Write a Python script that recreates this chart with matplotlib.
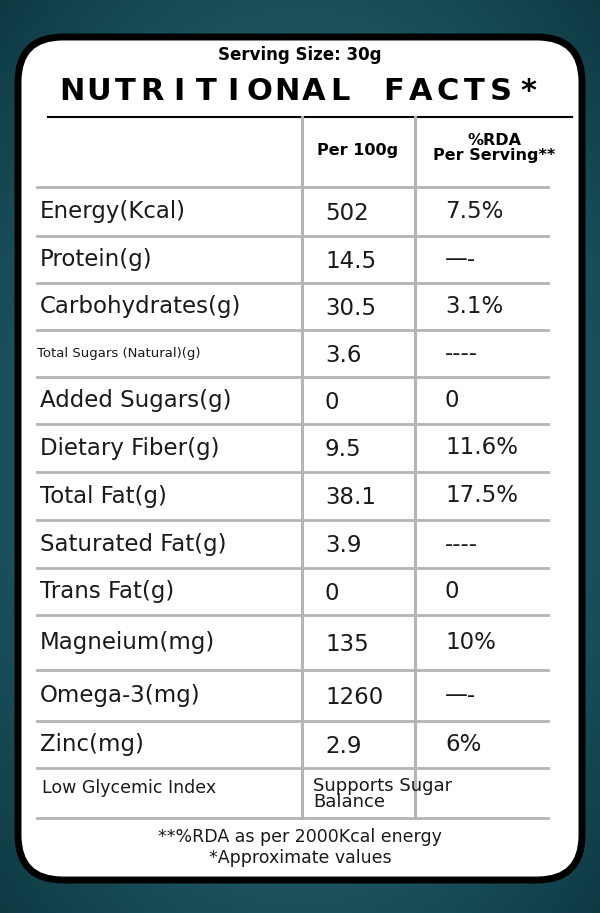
import numpy as np
import matplotlib.pyplot as plt
from matplotlib.patches import FancyBboxPatch

# label data
serving = "Serving Size: 30g"
title = "NUTRITIONAL FACTS*"
col_heads = ["Per 100g", "%RDA\nPer Serving**"]
nutrients = ["Energy(Kcal)", "Protein(g)", "Carbohydrates(g)", "Total Sugars (Natural)(g)",
             "Added Sugars(g)", "Dietary Fiber(g)", "Total Fat(g)", "Saturated Fat(g)",
             "Trans Fat(g)", "Magneium(mg)", "Omega-3(mg)", "Zinc(mg)"]
per_100g = ["502", "14.5", "30.5", "3.6", "0", "9.5", "38.1", "3.9", "0", "135", "1260", "2.9"]
rda = ["7.5%", "—-", "3.1%", "----", "0", "11.6%", "17.5%", "----", "0", "10%", "—-", "6%"]
footnotes = ["**%RDA as per 2000Kcal energy", "*Approximate values"]

W, H = 600, 913
fig = plt.figure(figsize=(6, 9.13), dpi=100)
ax = fig.add_axes([0, 0, 1, 1])
ax.set_xlim(0, W)
ax.set_ylim(H, 0)
ax.axis('off')

# teal radial background
yy, xx = np.mgrid[0:H, 0:W]
r = np.sqrt(((xx - W / 2) / W) ** 2 + ((yy - H / 2) / H) ** 2)
c0 = np.array([0x38, 0x86, 0x90]) / 255
c1 = np.array([0x0e, 0x3a, 0x44]) / 255
t = np.clip(r / 0.7, 0, 1)[..., None]
ax.imshow(c0 * (1 - t) + c1 * t, extent=[0, W, H, 0], zorder=0)

card = FancyBboxPatch((18, 37), 564, 843, boxstyle="round,pad=0,rounding_size=45",
                      fc='white', ec='black', lw=5, zorder=1)
ax.add_patch(card)

font = "DejaVu Sans"
ink = '#1a1a1a'
ax.text(300, 55, serving, ha='center', va='center', fontsize=12, fontweight='bold', family=font, zorder=3)

# letter-spaced title, one glyph at a time
title_x = np.linspace(72, 528, len(title))
for ch, x in zip(title, title_x):
    ax.text(x, 92, ch, ha='center', va='center', fontsize=22, fontweight='bold', family=font, zorder=3)
ax.plot([48, 572], [117, 117], color='black', lw=1.5, zorder=2)

row_lines = [187, 236, 283, 330, 377, 424, 472, 520, 568, 615, 670, 721, 768, 818]
grey = '#b4b4b4'
for y in row_lines:
    ax.plot([37, 548], [y, y], color=grey, lw=2, zorder=2)
for x in [302, 415]:
    ax.plot([x, x], [117, 818], color=grey, lw=2.2, zorder=2)

ax.text(358, 151, col_heads[0], ha='center', va='center', fontsize=11.5, fontweight='bold', family=font, zorder=3)
ax.text(494, 148, col_heads[1], ha='center', va='center', fontsize=11.5, fontweight='bold', family=font,
        linespacing=1.05, zorder=3)

for i, (n, v, p) in enumerate(zip(nutrients, per_100g, rda)):
    yc = (row_lines[i] + row_lines[i + 1]) / 2
    small = i == 3
    ax.text(37 if small else 40, yc, n, ha='left', va='center', fontsize=9.5 if small else 16.5,
            family=font, color=ink, zorder=3)
    ax.text(325, yc + 2, v, ha='left', va='center', fontsize=16.5, family=font, color=ink, zorder=3)
    ax.text(445, yc, p, ha='left', va='center', fontsize=16.5, family=font, color=ink, zorder=3)

ax.text(42, 788, "Low Glycemic Index", ha='left', va='center', fontsize=12.5, family=font, color=ink, zorder=3)
ax.text(313, 794, "Supports Sugar\nBalance", ha='left', va='center', fontsize=13, family=font,
        color=ink, linespacing=0.85, zorder=3)
ax.text(300, 837, footnotes[0], ha='center', va='center', fontsize=12.5, family=font, color=ink, zorder=3)
ax.text(300, 858, footnotes[1], ha='center', va='center', fontsize=12.5, family=font, color=ink, zorder=3)

fig.savefig('out.png', dpi=100)
